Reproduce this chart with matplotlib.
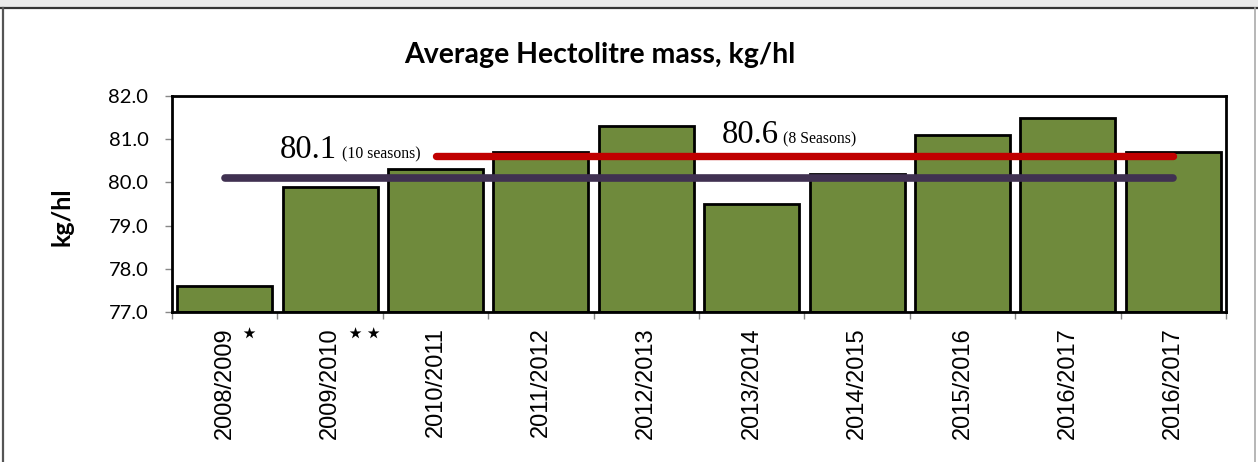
import matplotlib
matplotlib.use("Agg")
import matplotlib.pyplot as plt
from matplotlib.lines import Line2D
from matplotlib.patches import Rectangle

seasons = ["2008/2009", "2009/2010", "2010/2011", "2011/2012", "2012/2013",
           "2013/2014", "2014/2015", "2015/2016", "2016/2017", "2016/2017"]
values = [77.6, 79.9, 80.3, 80.7, 81.3, 79.5, 80.2, 81.1, 81.5, 80.7]
avg10 = 80.1
avg8 = 80.6
avg10_span = (0, 9)
avg8_span = (2, 9)
star_marks = ["\u22c6", "\u22c6\u22c6", "", "", "", "", "", "", "", ""]
yticks = [77.0, 78.0, 79.0, 80.0, 81.0, 82.0]

W, H = 1258, 462
fig = plt.figure(figsize=(W / 100, H / 100), dpi=100)
fig.patch.set_facecolor("white")

def fx(px):
    return px / W

def fy(py):
    return 1 - py / H

# outer chart frame
fig.add_artist(Rectangle((0, fy(7)), 1, 7 / H, transform=fig.transFigure,
                         facecolor="#e9e9e9", edgecolor="none"))
fig.add_artist(Line2D([0, 1], [fy(7.5), fy(7.5)], transform=fig.transFigure,
                      color="#333333", lw=1.6))
fig.add_artist(Line2D([fx(3), fx(3)], [0, fy(7.5)], transform=fig.transFigure,
                      color="#555555", lw=1.6))
fig.add_artist(Line2D([fx(1255), fx(1255)], [0, fy(7.5)], transform=fig.transFigure,
                      color="#aaaaaa", lw=1.2))

ax = fig.add_axes([fx(172), fy(312), fx(1226) - fx(172), fy(96) - fy(312)])
x = list(range(len(values)))
ax.bar(x, [v - 77.0 for v in values], bottom=77.0, width=0.9,
       color="#6F8A3C", edgecolor="black", linewidth=2.0, zorder=2)

ax.plot(avg10_span, [avg10, avg10], color="#403151", lw=5.5,
        solid_capstyle="round", zorder=3)
ax.plot(avg8_span, [avg8, avg8], color="#C00000", lw=5.3,
        solid_capstyle="round", zorder=3)

ax.set_xlim(-0.5, len(values) - 0.5)
ax.set_ylim(77.0, 82.0)
ax.set_yticks(yticks)
ax.set_yticklabels([f"{t:.1f}" for t in yticks], fontfamily="Lato", fontsize=14.5)
ax.set_xticks(x)
ax.set_xticklabels(seasons, rotation=90, fontfamily="Liberation Sans", fontsize=17)
ax.set_xticks([i + 0.5 for i in range(-1, len(values))], minor=True)
ax.tick_params(axis="x", which="major", length=0, pad=11)
ax.tick_params(axis="x", which="minor", length=5, color="#888888", width=1)
ax.tick_params(axis="y", length=5, color="#888888", width=1, pad=12)
for s in ax.spines.values():
    s.set_linewidth(2.0)
    s.set_color("black")

# star marks next to rotated labels
for i, m in enumerate(star_marks):
    if m:
        ax.annotate(m, xy=(i, 77.0), xycoords="data", xytext=(15, -23),
                    textcoords="offset pixels", ha="left", va="center",
                    fontfamily="DejaVu Sans", fontsize=22)

# average annotations
fig.text(fx(280), fy(158), "80.1", fontfamily="Liberation Serif", fontsize=23.5,
         ha="left", va="baseline")
fig.text(fx(342), fy(158), "(10 seasons)", fontfamily="Liberation Serif", fontsize=11.3,
         ha="left", va="baseline")
fig.text(fx(722), fy(143), "80.6", fontfamily="Liberation Serif", fontsize=23.5,
         ha="left", va="baseline")
fig.text(fx(783), fy(143), "(8 Seasons)", fontfamily="Liberation Serif", fontsize=11.3,
         ha="left", va="baseline")

fig.text(fx(600), fy(55), "Average Hectolitre mass, kg/hl", fontfamily="Lato",
         fontweight="bold", fontsize=20.5, ha="center", va="center")
fig.text(fx(62), fy(217), "kg/hl", fontfamily="Lato", fontweight="bold",
         fontsize=18, rotation=90, ha="center", va="center")

fig.savefig("out.png", dpi=100)
